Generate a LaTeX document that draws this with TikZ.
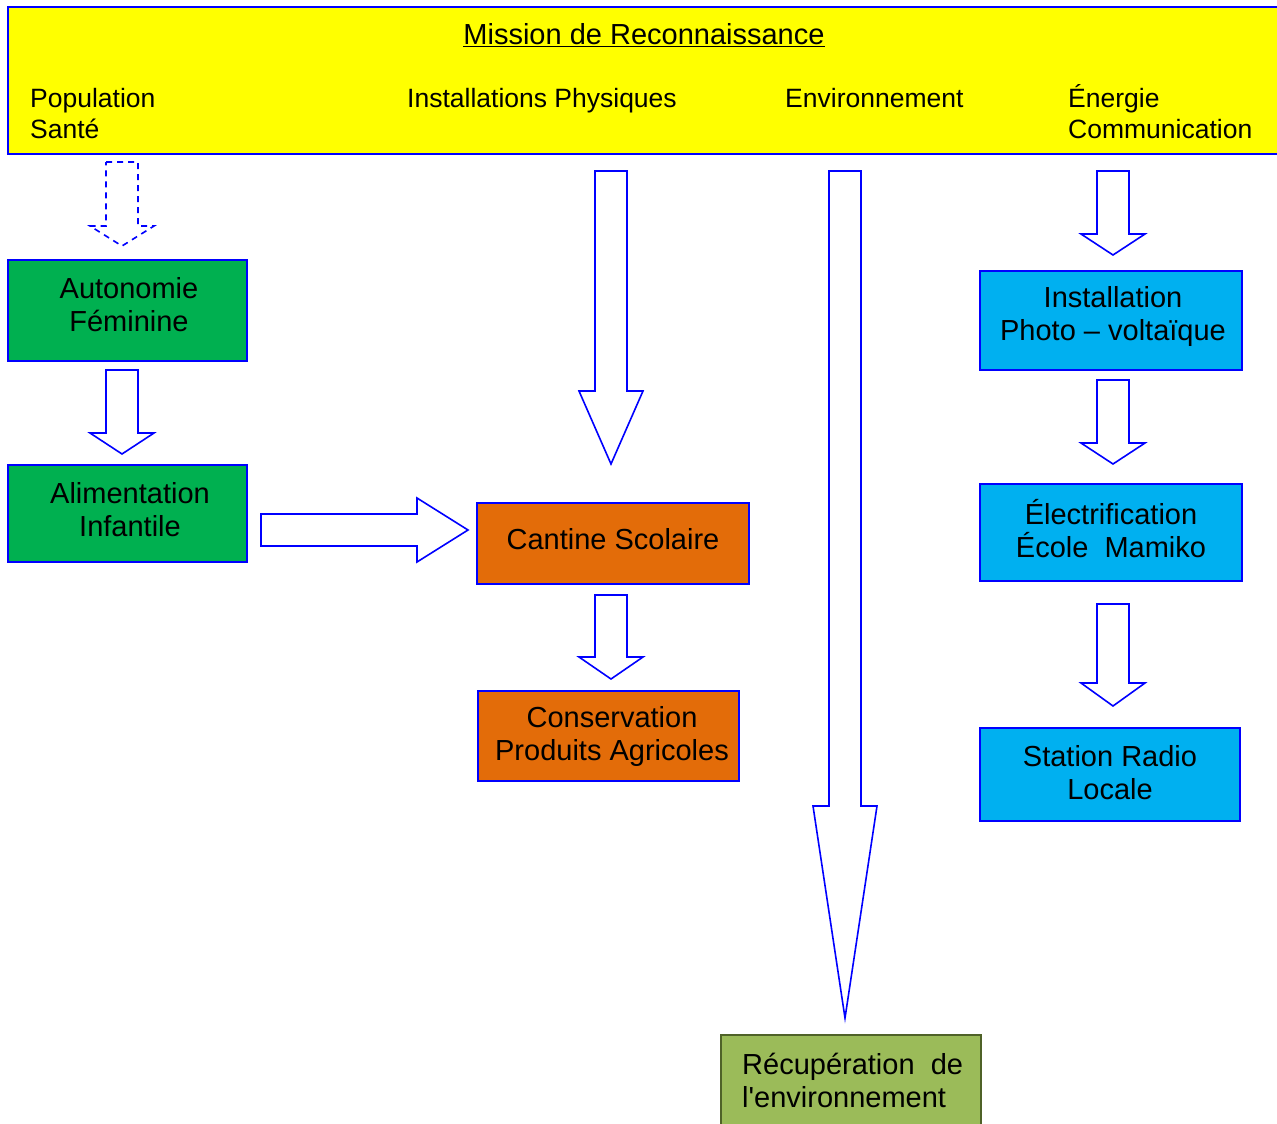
\documentclass[tikz,border=0pt]{standalone}
\usepackage{fontspec}
\setmainfont{Liberation Sans}
\definecolor{bblue}{HTML}{0000FF}
\definecolor{yel}{HTML}{FFFF00}
\definecolor{grn}{HTML}{00B050}
\definecolor{org}{HTML}{E36C09}
\definecolor{cyn}{HTML}{00B0F0}
\definecolor{olv}{HTML}{9BBB59}
\definecolor{olvb}{HTML}{4F6228}
\newcommand\bdarrow[5][]{% cx, top, headY, tip
  \draw[arrline,#1] (#2-16,#3) -- (#2+16,#3) -- (#2+16,#4) -- (#2+32,#4) -- (#2,#5) -- (#2-32,#4) -- (#2-16,#4) -- cycle;}
\begin{document}
\begin{tikzpicture}[x=1pt,y=-1pt,
  arrline/.style={draw=bblue,line width=1.6pt,fill=white,line join=miter},
  boxst/.style={draw=bblue,line width=1.6pt,inner sep=0pt},
  btxt/.style={inner sep=0pt,align=center,font=\fontsize{29}{33}\selectfont},
  hdr/.style={anchor=base west,inner sep=0pt,font=\fontsize{26.5}{31}\selectfont}]
\useasboundingbox (0,0) rectangle (1277,1124);
\clip (0,0) rectangle (1277,1124);
% header
\draw[draw=bblue,line width=1.6pt,fill=yel] (8,7) rectangle (1295,154);
\node[hdr,anchor=base,font=\fontsize{29}{33}\selectfont] (title) at (644,45) {\underline{Mission de Reconnaissance}};
\node[hdr] (h1a) at (30,107) {Population};
\node[hdr] (h1b) at (30,138) {Santé};
\node[hdr] (h2) at (407,107) {Installations Physiques};
\node[hdr] (h3) at (785,107) {Environnement};
\node[hdr] (h4a) at (1068,107) {Énergie};
\node[hdr] (h4b) at (1068,138) {Communication};
% boxes
\node[boxst,fill=grn,minimum width=239pt,minimum height=101pt] (auto) at (127.5,310.5) {};
\node[btxt] at (129,305) {Autonomie\\Féminine};
\node[boxst,fill=grn,minimum width=239pt,minimum height=97pt] (alim) at (127.5,513.5) {};
\node[btxt] at (130,510) {Alimentation\\Infantile};
\node[boxst,fill=org,minimum width=272pt,minimum height=81pt] (cant) at (613,543.5) {};
\node[btxt] at (613,539) {Cantine Scolaire};
\node[boxst,fill=org,minimum width=261pt,minimum height=90pt] (cons) at (608.5,736) {};
\node[btxt] at (612,736) {Conservation\\Produits Agricoles};
\node[boxst,fill=cyn,minimum width=262pt,minimum height=99pt] (inst) at (1111,320.5) {};
\node[btxt] at (1113,316) {Installation\\Photo -- voltaïque};
\node[boxst,fill=cyn,minimum width=262pt,minimum height=97pt] (elec) at (1111,532.5) {};
\node[btxt] at (1111,529) {Électrification\\École~~Mamiko};
\node[boxst,fill=cyn,minimum width=260pt,minimum height=93pt] (radio) at (1110,774.5) {};
\node[btxt] at (1110,773) {Station Radio\\Locale};
\draw[draw=olvb,line width=1.6pt,fill=olv] (721,1035) rectangle (981,1140);
\node[btxt,align=left,anchor=west] (recup) at (742,1080) {Récupération~~de\\l\textquotesingle environnement};
% arrows
\bdarrow[dashed,dash pattern=on 6pt off 5pt]{122}{162}{226}{246}
\bdarrow{1113}{171}{234}{255}
\bdarrow{611}{171}{391}{464}
\bdarrow{845}{171}{806}{1018}
\bdarrow{122}{370}{433}{454}
\bdarrow{611}{595}{657}{679}
\bdarrow{1113}{380}{443}{464}
\bdarrow{1113}{604}{683}{706}
\draw[arrline] (261,514) -- (417,514) -- (417,498) -- (468,530) -- (417,562) -- (417,546) -- (261,546) -- cycle;
\end{tikzpicture}
\end{document}
